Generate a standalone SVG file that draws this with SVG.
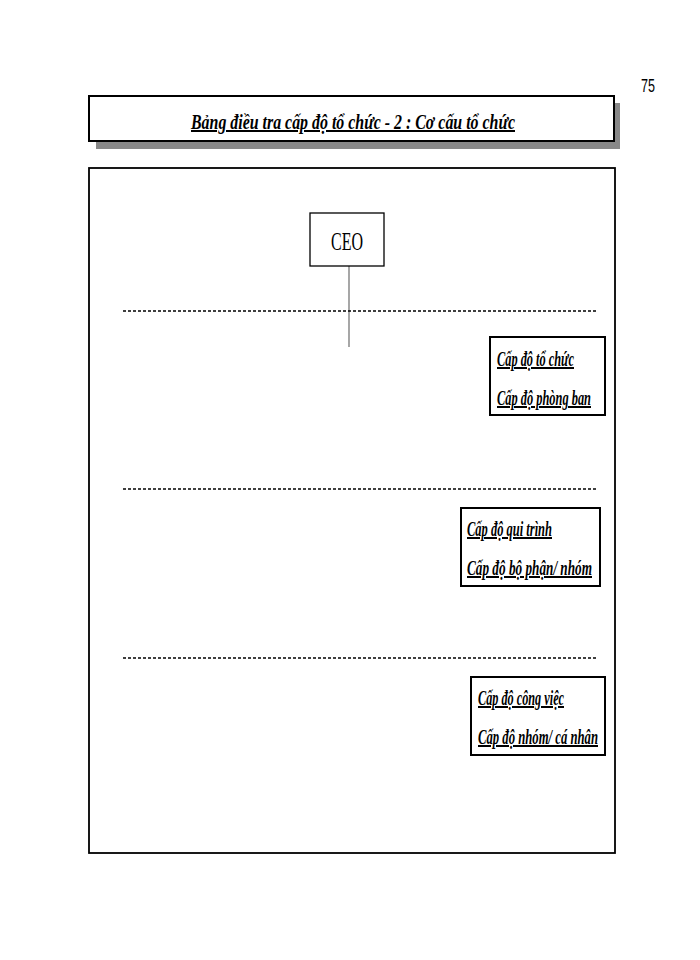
<svg xmlns="http://www.w3.org/2000/svg" width="700" height="960" viewBox="0 0 700 960">
<style>
.lbl{font-family:"Liberation Serif","Times New Roman",serif;font-weight:bold;font-style:italic;font-size:20px;text-decoration:underline;fill:#000}
.box{fill:#fff;stroke:#000;stroke-width:2}
.dash{stroke:#000;stroke-width:1.3;stroke-dasharray:3,2}
</style>
<rect width="700" height="960" fill="#fff"/>
<text x="648" y="92" font-family="Liberation Sans Narrow,Liberation Sans,Arial,sans-serif" font-size="18" text-anchor="middle" textLength="14" lengthAdjust="spacingAndGlyphs">75</text>
<g id="title">
<rect x="96" y="103" width="524" height="46" fill="#888"/>
<rect x="89" y="96" width="525" height="45" fill="#fff" stroke="#000" stroke-width="2"/>
<text class="lbl" x="191" y="129" font-size="25" textLength="324" lengthAdjust="spacingAndGlyphs">Bảng điều tra cấp độ tổ chức - 2 : Cơ cấu tổ chức</text>
</g>
<rect id="frame" x="89" y="168" width="526" height="685" fill="none" stroke="#000" stroke-width="1.8"/>
<g id="connectors">
<line x1="349" y1="266" x2="349" y2="347" stroke="#777" stroke-width="1.3"/>
<line class="dash" x1="123" y1="311" x2="597" y2="311"/>
<line class="dash" x1="123" y1="489" x2="597" y2="489"/>
<line class="dash" x1="123" y1="658" x2="597" y2="658"/>
</g>
<g id="ceo">
<rect x="310" y="213" width="74" height="53" fill="#fff" stroke="#000" stroke-width="1.3"/>
<text x="347" y="250" font-family="Liberation Serif,Times New Roman,serif" font-size="25" text-anchor="middle" textLength="32" lengthAdjust="spacingAndGlyphs">CEO</text>
</g>
<g id="level1">
<rect class="box" x="490" y="337" width="115" height="78"/>
<text class="lbl" x="497" y="366" textLength="77" lengthAdjust="spacingAndGlyphs">Cấp độ tổ chức</text>
<text class="lbl" x="497" y="405" textLength="94" lengthAdjust="spacingAndGlyphs">Cấp độ phòng ban</text>
</g>
<g id="level2">
<rect class="box" x="461" y="508" width="139" height="78"/>
<text class="lbl" x="467" y="536" textLength="85" lengthAdjust="spacingAndGlyphs">Cấp độ qui trình</text>
<text class="lbl" x="467" y="575" textLength="125" lengthAdjust="spacingAndGlyphs">Cấp độ bộ phận/ nhóm</text>
</g>
<g id="level3">
<rect class="box" x="471" y="677" width="134" height="78"/>
<text class="lbl" x="478" y="705" textLength="86" lengthAdjust="spacingAndGlyphs">Cấp độ công việc</text>
<text class="lbl" x="478" y="744" textLength="120" lengthAdjust="spacingAndGlyphs">Cấp độ nhóm/ cá nhân</text>
</g>
</svg>
